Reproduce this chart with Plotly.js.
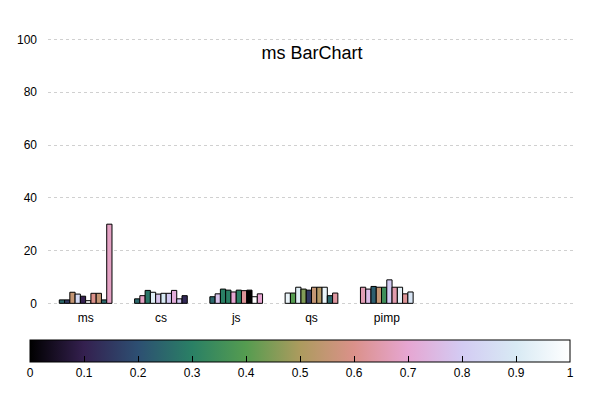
<!DOCTYPE html><html><head><script src="https://cdn.plot.ly/plotly-3.0.1.min.js"></script></head><body style="margin:0"><div id="c" style="width:600px;height:400px"></div><script>
const categories=['ms','cs','js','qs','pimp'];
const values={
 ms:[1.3,1.3,4.2,3.5,2.7,1.0,3.8,3.8,1.3,30],
 cs:[1.7,2.9,4.9,4.2,3.5,3.8,3.8,4.9,1.7,2.9],
 js:[2.5,3.6,5.4,5.0,4.3,5.0,4.8,5.0,2.5,3.6],
 qs:[3.9,3.9,6.1,5.4,5.0,6.1,6.1,6.1,2.9,3.9],
 pimp:[6.1,5.4,6.4,6.1,6.1,8.9,6.1,6.1,3.6,4.3]
};
const colorVals={
 ms:[0.25,0.15,0.55,0.85,0.1,1.0,0.6,0.55,0.25,0.68],
 cs:[0.25,0.68,0.28,0.92,0.78,0.9,0.8,0.72,0.8,0.12],
 js:[0.25,0.78,0.3,0.3,0.7,0.3,0.62,0.0,1.0,0.7],
 qs:[0.95,0.4,0.92,0.45,0.15,0.55,0.52,0.95,0.25,0.63],
 pimp:[0.66,0.76,0.23,0.55,0.35,0.8,0.65,0.93,0.62,0.88]
};
const cs=[[0,'#000000'],[0.1,'#34204f'],[0.2,'#2d4f72'],[0.3,'#2a8065'],[0.4,'#559c50'],[0.5,'#ac9b5e'],[0.6,'#db918a'],[0.7,'#e6a6d2'],[0.8,'#d3cbf3'],[0.9,'#d8eaf4'],[1,'#ffffff']];
const traces=[];
for(let i=0;i<10;i++){
 traces.push({type:'bar',x:categories,y:categories.map(c=>values[c][i]),
  marker:{color:categories.map(c=>colorVals[c][i]),colorscale:cs,cmin:0,cmax:1,line:{color:'#000',width:1},
   showscale:i===0,
   colorbar:i===0?{orientation:'h',x:-0.034,xanchor:'left',y:-0.112,yanchor:'top',lenmode:'pixels',len:540,thickness:22,
    outlinewidth:1,outlinecolor:'#000',ticks:'inside',ticklen:6,tickcolor:'#000',tickvals:[0,0.1,0.2,0.3,0.4,0.5,0.6,0.7,0.8,0.9,1],
    ticktext:['0','0.1','0.2','0.3','0.4','0.5','0.6','0.7','0.8','0.9','1'],tickfont:{size:12,color:'#000'},xpad:0,ypad:0}:undefined},
  showlegend:false,hoverinfo:'y'});
}
Plotly.newPlot('c',traces,{
 width:600,height:400,margin:{l:48,r:25,t:30,b:75},barmode:'group',bargap:0.3,bargroupgap:0,
 font:{family:'Liberation Sans, Arial',color:'#000'},
 title:{text:'ms BarChart',x:0.52,xanchor:'center',y:0.885,font:{size:18}},
 xaxis:{range:[-0.5,6.5],showgrid:false,zeroline:false,ticks:'',tickfont:{size:12},showline:false},
 yaxis:{range:[-2.15,103.6],tickvals:[0,20,40,60,80,100],showgrid:true,gridcolor:'#d0d0d0',griddash:'dot',zeroline:false,tickfont:{size:12},ticklabelstandoff:10},
 plot_bgcolor:'#fff',paper_bgcolor:'#fff'
},{displayModeBar:false});
</script></body></html>
